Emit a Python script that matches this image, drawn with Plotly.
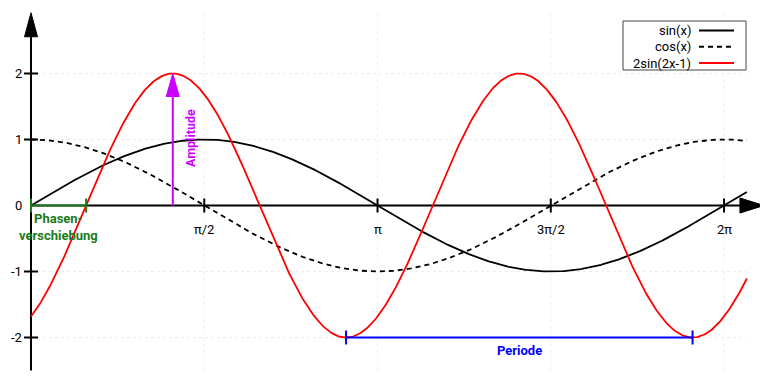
import numpy as np
import plotly.graph_objects as go

# ---- data ----
x_max = 6.49
xs = np.linspace(0, x_max, 600)
series_names = ["sin(x)", "cos(x)", "2sin(2x-1)"]
series_colors = ["black", "black", "red"]
series_dash = ["solid", "5px,4px", "solid"]
series_y = [np.sin(xs), np.cos(xs), 2 * np.sin(2 * xs - 1)]

xtick_vals = [np.pi / 2, np.pi, 3 * np.pi / 2, 2 * np.pi]
xtick_text = ["π/2", "π", "3π/2", "2π"]
ytick_vals = [-2, -1, 0, 1, 2]
ytick_text = ["-2", "-1", "0", "1", "2"]

amplitude = 2
phase_shift = 0.5
period = np.pi
peak_x = (np.pi / 2 + 1) / 2
trough_x = (3 * np.pi / 2 + 1) / 2

y_bottom, y_top = -2.5, 2.92
x_tip = 6.645

# pixel scale (page has an 8px body margin)
OFF = 8
W, H = 768 - OFF, 384 - OFF
x0px, sx = 31 - OFF, 110.3
y0px, sy = 205.5 - OFF, 66.0
xr = [-x0px / sx, (W - x0px) / sx]
yr = [-(H - y0px) / sy, y0px / sy]

FONT = "Roboto"
fig = go.Figure()

# gridlines
grid_col = "#ededed"
for xv in xtick_vals:
    fig.add_trace(go.Scatter(x=[xv, xv], y=[y_bottom, y_top - 0.02], mode="lines",
                             line=dict(color=grid_col, width=1, dash="dot"),
                             showlegend=False, hoverinfo="skip"))
for yv in ytick_vals:
    if yv == 0:
        continue
    fig.add_trace(go.Scatter(x=[0, x_max], y=[yv, yv], mode="lines",
                             line=dict(color=grid_col, width=1, dash="dot"),
                             showlegend=False, hoverinfo="skip"))

# axes
fig.add_trace(go.Scatter(x=[0, 6.45], y=[0, 0], mode="lines",
                         line=dict(color="black", width=2), showlegend=False, hoverinfo="skip"))
fig.add_trace(go.Scatter(x=[0, 0], y=[y_bottom, 2.6], mode="lines",
                         line=dict(color="black", width=2), showlegend=False, hoverinfo="skip"))
# arrowheads
ah_w = 7.5 / sy
ah_l = 24 / sx
fig.add_shape(type="path", path=f"M {x_tip} 0 L {x_tip - ah_l} {ah_w} L {x_tip - ah_l} {-ah_w} Z",
              fillcolor="black", line=dict(color="black", width=1), xref="x", yref="y")
aw = 6.5 / sx
al = 24 / sy
fig.add_shape(type="path", path=f"M 0 {y_top} L {-aw} {y_top - al} L {aw} {y_top - al} Z",
              fillcolor="black", line=dict(color="black", width=1), xref="x", yref="y")

# ticks
for xv in xtick_vals:
    fig.add_shape(type="line", xref="x", yref="y", x0=xv, x1=xv, ysizemode="pixel", yanchor=0,
                  y0=-7, y1=7, line=dict(color="black", width=2))
for yv in ytick_vals:
    if yv == 0:
        continue
    fig.add_shape(type="line", xref="x", yref="y", y0=yv, y1=yv, xsizemode="pixel", xanchor=0,
                  x0=-7, x1=7, line=dict(color="black", width=2))

# curves
for name, yv, c, d in zip(series_names, series_y, series_colors, series_dash):
    fig.add_trace(go.Scatter(x=xs, y=yv, mode="lines", name=name,
                             line=dict(color=c, width=1.8, dash=d), showlegend=False))

# tick labels
for xv, t in zip(xtick_vals, xtick_text):
    fig.add_annotation(x=xv, y=0, text=t, showarrow=False, yshift=-24,
                       font=dict(family=FONT, size=13, color="black"))
for yv, t in zip(ytick_vals, ytick_text):
    fig.add_annotation(x=0, y=yv, text=t, showarrow=False, xanchor="right", xshift=-7,
                       font=dict(family=FONT, size=13, color="black"))

# amplitude
mag = "#cc00ff"
fig.add_trace(go.Scatter(x=[peak_x, peak_x], y=[0, amplitude - 0.3], mode="lines",
                         line=dict(color=mag, width=2), showlegend=False, hoverinfo="skip"))
fig.add_shape(type="path",
              path=f"M {peak_x} {amplitude} L {peak_x - 6.5 / sx} {amplitude - 23 / sy} L {peak_x + 6.5 / sx} {amplitude - 23 / sy} Z",
              fillcolor=mag, line=dict(color=mag, width=1), xref="x", yref="y")
fig.add_annotation(x=peak_x, y=1.02, text="<b>Amplitude</b>", textangle=-90, showarrow=False,
                   xshift=17, font=dict(family=FONT, size=12.5, color=mag))

# phase shift
grn = "#1a7a1a"
fig.add_trace(go.Scatter(x=[0, phase_shift], y=[0, 0], mode="lines",
                         line=dict(color=grn, width=2), showlegend=False, hoverinfo="skip"))
for xv in [0, phase_shift]:
    fig.add_shape(type="line", xref="x", yref="y", x0=xv, x1=xv, ysizemode="pixel", yanchor=0,
                  y0=-7, y1=7, line=dict(color=grn, width=2))
fig.add_annotation(x=phase_shift / 2, y=0, text="<b>Phasen-<br>verschiebung</b>", showarrow=False,
                   yanchor="top", yshift=-3, font=dict(family=FONT, size=13, color=grn))

# period
blu = "#0000ff"
fig.add_trace(go.Scatter(x=[trough_x, trough_x + period], y=[-amplitude, -amplitude], mode="lines",
                         line=dict(color=blu, width=2), showlegend=False, hoverinfo="skip"))
for xv in [trough_x, trough_x + period]:
    fig.add_shape(type="line", xref="x", yref="y", x0=xv, x1=xv, ysizemode="pixel", yanchor=-amplitude,
                  y0=-7, y1=7, line=dict(color=blu, width=2))
fig.add_annotation(x=trough_x + period / 2, y=-amplitude, text="<b>Periode</b>", showarrow=False,
                   yshift=-13, font=dict(family=FONT, size=13, color=blu))

# manual legend (pixel positions in the reference page)
lx0, lx1, ly0, ly1 = 623 - OFF, 746 - OFF, 21 - OFF, 70 - OFF
fig.add_shape(type="rect", xref="paper", yref="paper", x0=lx0 / W, x1=lx1 / W,
              y0=1 - ly1 / H, y1=1 - ly0 / H, line=dict(color="#444", width=1), fillcolor="white")
for i, (name, c, d) in enumerate(zip(series_names, series_colors, series_dash)):
    py = 30.5 - OFF + i * 16.3
    fig.add_annotation(xref="paper", yref="paper", x=(693 - OFF) / W, y=1 - py / H, text=name,
                       xanchor="right", yanchor="middle", showarrow=False,
                       font=dict(family=FONT, size=13, color="black"))
    fig.add_shape(type="line", xref="paper", yref="paper", x0=(699 - OFF) / W, x1=(734 - OFF) / W,
                  y0=1 - py / H, y1=1 - py / H, line=dict(color=c, width=2, dash=d))

fig.update_layout(
    width=W, height=H, margin=dict(l=0, r=0, t=0, b=0),
    plot_bgcolor="white", paper_bgcolor="white",
    xaxis=dict(range=xr, visible=False, fixedrange=True),
    yaxis=dict(range=yr, visible=False, fixedrange=True),
    font=dict(family=FONT),
)
fig.write_html("out.html")
